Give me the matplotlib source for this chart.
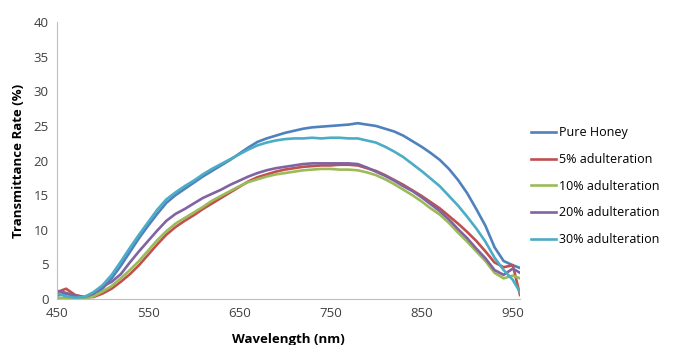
import matplotlib
matplotlib.use('Agg')
import matplotlib.pyplot as plt

wavelength = [450, 460, 470, 480, 490, 500, 510, 520, 530, 540, 550, 560, 570, 580,
              590, 600, 610, 620, 630, 640, 650, 660, 670, 680, 690, 700, 710, 720,
              730, 740, 750, 760, 770, 780, 790, 800, 810, 820, 830, 840, 850, 860,
              870, 880, 890, 900, 910, 920, 930, 940, 950, 958]

pure_honey = [0.5, 0.8, 0.3, 0.2, 0.6, 1.5, 3.0, 4.8, 6.8, 8.8, 10.6, 12.3, 13.9, 15.0,
              15.9, 16.8, 17.7, 18.5, 19.3, 20.1, 21.0, 21.9, 22.7, 23.2, 23.6, 24.0, 24.3, 24.6,
              24.8, 24.9, 25.0, 25.1, 25.2, 25.4, 25.2, 25.0, 24.6, 24.2, 23.6, 22.8, 22.0, 21.1,
              20.1, 18.8, 17.2, 15.3, 13.0, 10.6, 7.5, 5.5, 4.9, 4.5]
adult_5 = [1.0, 1.5, 0.6, 0.3, 0.3, 0.8, 1.5, 2.5, 3.6, 4.9, 6.4, 7.9, 9.3, 10.4,
           11.3, 12.1, 13.0, 13.8, 14.6, 15.4, 16.2, 17.0, 17.6, 18.0, 18.4, 18.7, 18.9, 19.1,
           19.2, 19.3, 19.3, 19.4, 19.4, 19.3, 18.9, 18.5, 17.9, 17.2, 16.5, 15.7, 14.9, 14.0,
           13.1, 12.0, 10.9, 9.7, 8.4, 6.9, 5.3, 4.6, 4.9, 0.6]
adult_10 = [0.2, 0.1, 0.0, 0.0, 0.4, 1.1, 1.9, 3.0, 4.2, 5.5, 7.0, 8.5, 9.8, 10.9,
            11.7, 12.5, 13.3, 14.2, 14.9, 15.6, 16.3, 16.9, 17.3, 17.7, 18.0, 18.2, 18.4, 18.6,
            18.7, 18.8, 18.8, 18.7, 18.7, 18.6, 18.3, 17.9, 17.3, 16.6, 15.8, 15.0, 14.1, 13.1,
            12.2, 11.0, 9.6, 8.3, 6.9, 5.5, 3.8, 3.0, 3.4, 3.0]
adult_20 = [1.2, 0.9, 0.5, 0.3, 0.8, 1.8, 2.5, 3.6, 5.3, 6.9, 8.4, 9.9, 11.3, 12.3,
            13.0, 13.8, 14.6, 15.2, 15.8, 16.5, 17.1, 17.7, 18.2, 18.6, 18.9, 19.1, 19.3, 19.5,
            19.6, 19.6, 19.6, 19.6, 19.6, 19.5, 19.0, 18.4, 17.8, 17.1, 16.3, 15.6, 14.7, 13.7,
            12.7, 11.5, 10.1, 8.8, 7.3, 5.9, 4.2, 3.5, 4.4, 3.8]
adult_30 = [0.8, 0.4, 0.2, 0.3, 1.0, 2.0, 3.5, 5.4, 7.4, 9.3, 11.1, 12.9, 14.4, 15.4,
            16.3, 17.1, 18.0, 18.8, 19.5, 20.2, 20.9, 21.6, 22.2, 22.6, 22.9, 23.1, 23.2, 23.2,
            23.3, 23.2, 23.3, 23.3, 23.2, 23.2, 22.9, 22.6, 22.0, 21.3, 20.5, 19.5, 18.5, 17.4,
            16.3, 14.9, 13.5, 11.9, 10.2, 8.3, 6.0, 4.2, 2.8, 1.0]

labels = ['Pure Honey', '5% adulteration', '10% adulteration',
          '20% adulteration', '30% adulteration']
series = [pure_honey, adult_5, adult_10, adult_20, adult_30]
colors = ['#4F81BD', '#C0504D', '#9BBB59', '#8064A2', '#4BACC6']

plt.rcParams['font.family'] = ['Open Sans', 'DejaVu Sans']

fig = plt.figure(figsize=(6.78, 3.45), dpi=100)
ax = fig.add_axes([0.084, 0.133, 0.683, 0.803])

for vals, lab, col in zip(series, labels, colors):
    ax.plot(wavelength, vals, color=col, linewidth=1.9, label=lab)

ax.set_xlim(450, 958)
ax.set_ylim(0, 40)
ax.set_xticks([450, 550, 650, 750, 850, 950])
ax.set_yticks(range(0, 41, 5))
ax.tick_params(length=0, labelsize=9.5, colors='#404040', pad=6)
for s in ['top', 'right']:
    ax.spines[s].set_visible(False)
for s in ['left', 'bottom']:
    ax.spines[s].set_color('#BFBFBF')

ax.set_xlabel('Wavelength (nm)', fontsize=9.5, fontweight='bold', labelpad=9)
ax.set_ylabel('Transmittance Rate (%)', fontsize=9.5, fontweight='bold', labelpad=6)

ax.legend(loc='upper left', bbox_to_anchor=(1.0, 0.665), frameon=False,
          fontsize=9, handlelength=2.0, handletextpad=0.25, labelspacing=1.1)

fig.savefig('out.png', dpi=100)
